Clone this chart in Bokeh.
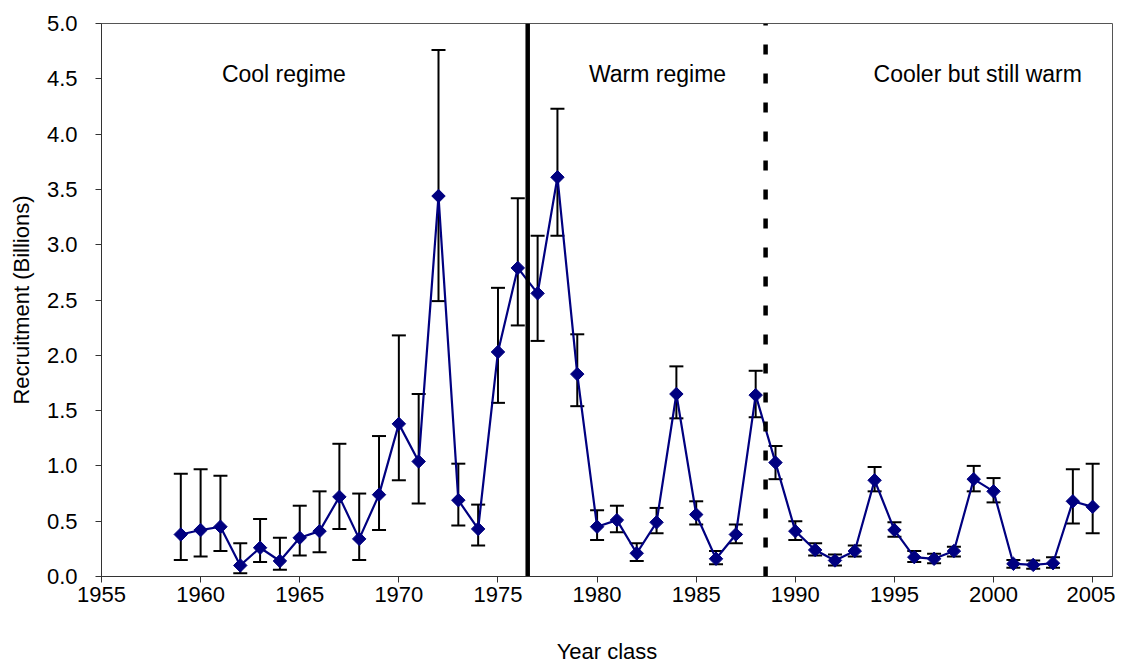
from bokeh.plotting import figure
from bokeh.models import (ColumnDataSource, FixedTicker, Whisker, TeeHead,
                          NumeralTickFormatter, Range1d)
from bokeh.core.properties import value
from bokeh.embed import file_html
from bokeh.resources import INLINE

# ---- data ----
years = list(range(1959, 2006))
recruitment = [0.38, 0.42, 0.45, 0.10, 0.26, 0.14, 0.35, 0.41, 0.72, 0.34, 0.74,
               1.38, 1.04, 3.44, 0.69, 0.43, 2.03, 2.79, 2.56, 3.61, 1.83,
               0.45, 0.51, 0.21, 0.49, 1.65, 0.56, 0.16, 0.38, 1.64, 1.03,
               0.41, 0.24, 0.145, 0.23, 0.87, 0.42, 0.175, 0.16, 0.23, 0.88,
               0.77, 0.115, 0.105, 0.12, 0.68, 0.63]
upper = [0.93, 0.97, 0.91, 0.30, 0.52, 0.35, 0.64, 0.77, 1.20, 0.75, 1.27,
         2.18, 1.65, 4.76, 1.02, 0.65, 2.61, 3.42, 3.08, 4.23, 2.19,
         0.60, 0.64, 0.30, 0.62, 1.90, 0.68, 0.23, 0.47, 1.86, 1.18,
         0.50, 0.30, 0.20, 0.28, 0.99, 0.49, 0.23, 0.205, 0.27, 1.00,
         0.89, 0.15, 0.145, 0.175, 0.97, 1.02]
lower = [0.15, 0.18, 0.23, 0.03, 0.13, 0.06, 0.19, 0.22, 0.43, 0.15, 0.42,
         0.87, 0.66, 2.49, 0.46, 0.28, 1.57, 2.27, 2.13, 3.08, 1.54,
         0.33, 0.40, 0.14, 0.39, 1.43, 0.47, 0.11, 0.30, 1.44, 0.88,
         0.33, 0.19, 0.10, 0.18, 0.77, 0.36, 0.13, 0.12, 0.18, 0.77,
         0.67, 0.08, 0.07, 0.08, 0.48, 0.39]

regime_break_solid = 1976.5
regime_break_dashed = 1988.5
regime_labels = ["Cool regime", "Warm regime", "Cooler but still warm"]
regime_label_x = [1964.2, 1983.05, 1999.2]
regime_label_y = [4.54, 4.54, 4.54]

x_ticks = [1955, 1960, 1965, 1970, 1975, 1980, 1985, 1990, 1995, 2000, 2005]
y_ticks = [0.0, 0.5, 1.0, 1.5, 2.0, 2.5, 3.0, 3.5, 4.0, 4.5, 5.0]

FONT = "Liberation Sans"
NAVY = "#000080"
AXIS_COLOR = "#333333"

src = ColumnDataSource(data=dict(year=years, r=recruitment, up=upper, lo=lower))

p = figure(width=1115, height=666, output_backend="svg", toolbar_location=None,
           x_range=Range1d(1955, 2006), y_range=Range1d(0, 5),
           min_border_left=101, min_border_right=3, min_border_top=23,
           min_border_bottom=89)

p.background_fill_color = "white"
p.border_fill_color = "white"
p.outline_line_color = "#555555"
p.outline_line_width = 1
p.xgrid.visible = False
p.ygrid.visible = False

# error bars
wh = Whisker(base="year", upper="up", lower="lo", source=src,
             line_color="black", line_width=2, level="underlay",
             upper_head=TeeHead(size=14, line_color="black", line_width=2),
             lower_head=TeeHead(size=14, line_color="black", line_width=2))
p.add_layout(wh)

# series
p.line("year", "r", source=src, line_color=NAVY, line_width=2.2)
p.scatter("year", "r", source=src, marker="square", angle=0.785398,
          size=9.5, fill_color=NAVY, line_color=NAVY, line_width=1)

# regime boundaries
p.segment(x0=[regime_break_solid], y0=[0], x1=[regime_break_solid], y1=[5],
          line_color="black", line_width=4.5, line_cap="butt")
p.segment(x0=[regime_break_dashed], y0=[0], x1=[regime_break_dashed], y1=[5],
          line_color="black", line_width=4.5, line_dash="10 19", line_cap="butt")

# regime labels
p.text(x=regime_label_x, y=regime_label_y, text=regime_labels,
       text_font=value(FONT), text_font_size="23px", text_color="black",
       text_align="center", text_baseline="middle")

# axes
for ax in (p.xaxis[0], p.yaxis[0]):
    ax.axis_line_color = AXIS_COLOR
    ax.major_tick_line_color = AXIS_COLOR
    ax.minor_tick_line_color = None
    ax.major_tick_in = 0
    ax.major_tick_out = 6
    ax.major_label_text_font = FONT
    ax.major_label_text_font_size = "22px"
    ax.major_label_text_color = "black"
    ax.axis_label_text_font = FONT
    ax.axis_label_text_font_size = "22px"
    ax.axis_label_text_font_style = "normal"
    ax.axis_label_text_color = "black"

p.xaxis.ticker = FixedTicker(ticks=x_ticks)
p.yaxis.ticker = FixedTicker(ticks=y_ticks)
p.yaxis.formatter = NumeralTickFormatter(format="0.0")
p.xaxis.axis_label = "Year class"
p.yaxis.axis_label = "Recruitment (Billions)"
p.xaxis.major_label_standoff = 4
p.xaxis.axis_label_standoff = 34
p.yaxis.major_label_standoff = 18
p.yaxis.axis_label_standoff = 10

open("out.html", "w").write(file_html(p, INLINE))
